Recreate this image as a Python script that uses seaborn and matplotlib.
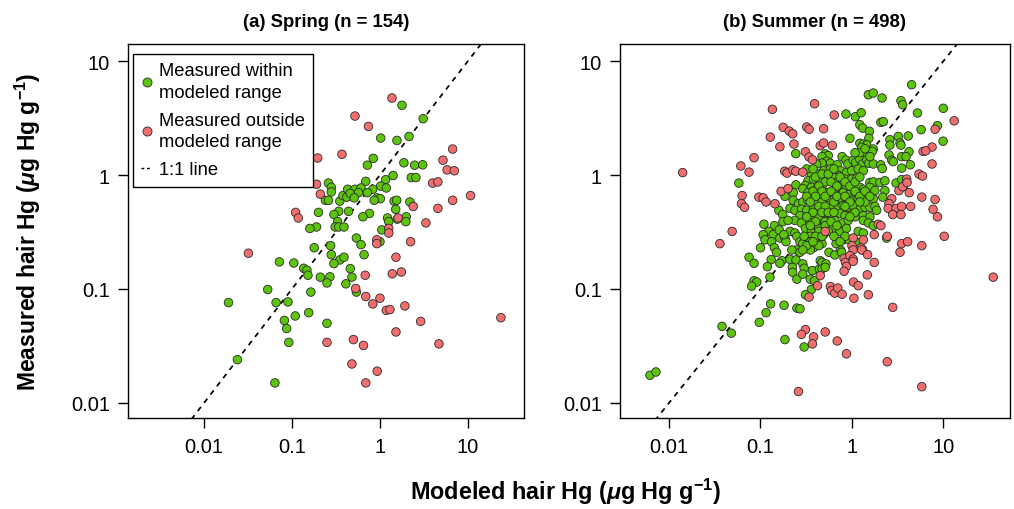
import numpy as np
import pandas as pd
import matplotlib
matplotlib.use("Agg")
import matplotlib.pyplot as plt
from matplotlib.lines import Line2D
import seaborn as sns

# (modeled, measured) hair Hg in ug Hg g-1
spring_within = [
    (0.26, 0.85), (0.28, 0.78), (0.28, 0.71), (0.24, 0.60), (0.26, 0.60),
    (0.35, 0.59), (0.38, 0.66), (0.43, 0.75), (0.42, 0.64), (0.20, 0.47),
    (0.34, 0.48), (0.30, 0.45), (0.44, 0.48), (0.33, 0.39), (0.19, 0.35),
    (0.16, 0.34), (0.31, 0.35), (0.34, 0.35), (0.39, 0.35), (1.78, 4.09),
    (3.1, 3.12), (1.02, 2.11), (1.56, 2.01), (2.14, 2.18), (0.84, 1.40),
    (0.72, 1.22), (1.87, 1.28), (2.48, 1.22), (3.06, 1.23), (1.41, 0.99),
    (1.16, 0.91), (0.69, 0.88), (2.27, 0.95), (2.56, 0.95), (1.02, 0.80),
    (1.18, 0.77), (0.83, 0.75), (0.52, 0.75), (0.61, 0.77), (0.72, 0.70),
    (0.57, 0.70), (0.46, 0.69), (0.51, 0.63), (0.93, 0.63), (1.01, 0.62),
    (0.86, 0.60), (1.45, 0.59), (1.55, 0.60), (2.19, 0.58), (1.51, 0.50),
    (0.76, 0.46), (0.64, 0.43), (1.22, 0.42), (1.26, 0.39), (1.57, 0.41),
    (1.99, 0.43), (1.97, 0.39), (1.05, 0.33), (0.54, 0.28), (0.072, 0.173),
    (0.105, 0.169), (0.179, 0.23), (0.275, 0.24), (0.28, 0.20), (0.35, 0.18),
    (0.39, 0.19), (0.30, 0.167), (0.136, 0.152), (0.148, 0.146), (0.152, 0.132),
    (0.21, 0.127), (0.27, 0.128), (0.25, 0.113), (0.41, 0.111), (0.46, 0.151),
    (0.053, 0.099), (0.164, 0.094), (0.019, 0.076), (0.066, 0.076), (0.090, 0.077),
    (0.109, 0.058), (0.155, 0.062), (0.082, 0.053), (0.087, 0.045), (0.25, 0.050),
    (0.092, 0.034), (0.024, 0.024), (0.064, 0.015), (0.61, 0.245), (1.0, 0.26),
    (0.66, 0.20), (0.48, 0.127), (0.54, 0.094),
]
spring_outside = [
    (0.196, 1.41), (0.37, 1.52), (0.19, 0.83), (0.21, 0.68), (0.110, 0.47),
    (0.118, 0.42), (1.37, 4.74), (0.52, 3.29), (0.74, 2.67), (6.7, 1.69),
    (5.2, 1.35), (5.8, 1.11), (7.0, 1.09), (3.97, 0.85), (4.56, 0.87),
    (2.39, 0.53), (10.7, 0.66), (6.7, 0.60), (4.56, 0.51), (1.61, 0.42),
    (3.33, 0.38), (1.26, 0.34), (1.26, 0.31), (0.032, 0.206), (0.25, 0.034),
    (0.92, 0.27), (0.92, 0.25), (2.23, 0.26), (1.52, 0.19), (0.68, 0.132),
    (1.38, 0.136), (1.75, 0.141), (0.53, 0.101), (0.69, 0.086), (1.0, 0.083),
    (0.83, 0.074), (1.18, 0.065), (1.30, 0.066), (1.92, 0.071), (2.90, 0.052),
    (23.7, 0.056), (1.52, 0.042), (0.50, 0.036), (0.65, 0.032), (4.68, 0.033),
    (0.48, 0.022), (0.93, 0.019), (0.69, 0.015),
]

summer_within = [
    (0.058, 0.85),
    (1.51, 5.06), (1.71, 5.24), (2.13, 4.74), (3.43, 4.49), (3.58, 4.14),
    (0.86, 3.43), (1.09, 3.25), (1.26, 3.52), (1.22, 2.76), (1.31, 2.58),
    (2.07, 2.90), (2.20, 2.94), (1.55, 2.42), (3.21, 2.18), (0.95, 2.10),
    (1.53, 2.10), (1.22, 1.90), (1.33, 1.87), (1.45, 1.84), (1.28, 1.75),
    (2.60, 2.04), (2.60, 1.83), (3.35, 1.91), (3.43, 1.83), (1.71, 1.69),
    (1.67, 1.61), (0.51, 1.53), (0.55, 1.48), (0.47, 1.45), (0.78, 1.45),
    (1.33, 1.48), (2.54, 1.50), (2.72, 1.35), (2.83, 1.31), (3.49, 1.45),
    (0.53, 1.32), (0.58, 1.27), (0.47, 1.27), (0.69, 1.23), (0.86, 1.35),
    (0.90, 1.25), (1.03, 1.35), (1.10, 1.29), (1.22, 1.37), (1.30, 1.25),
    (1.45, 1.36), (1.53, 1.27), (1.71, 1.25), (2.06, 1.23), (2.14, 1.14),
    (3.49, 1.15), (0.49, 1.09), (0.58, 1.13), (0.75, 1.09), (0.87, 1.05),
    (0.99, 1.09), (1.17, 1.13), (1.33, 1.09), (0.71, 0.99), (0.65, 0.95),
    (0.49, 0.92), (0.55, 0.89), (0.84, 0.92), (0.99, 0.92), (1.13, 0.94),
    (1.57, 0.86), (1.71, 0.87), (2.02, 0.86), (2.29, 0.89), (3.03, 0.85),
    (3.49, 0.91), (0.65, 0.85), (0.77, 0.81), (0.87, 0.78), (0.99, 0.78),
    (1.22, 0.78), (1.33, 0.75), (1.57, 0.78), (0.47, 0.79), (0.51, 0.70),
    (0.62, 0.70), (0.80, 0.70), (0.95, 0.68), (1.08, 0.70), (1.31, 0.70),
    (1.78, 0.73), (2.29, 0.73), (0.45, 0.64), (0.53, 0.62), (0.68, 0.60),
    (0.77, 0.62), (0.87, 0.62), (1.03, 0.60), (1.17, 0.62), (1.48, 0.64),
    (1.71, 0.62), (2.17, 0.64), (0.55, 0.54), (0.60, 0.51), (0.71, 0.52),
    (0.80, 0.54), (0.91, 0.52), (1.03, 0.54), (1.22, 0.50), (1.39, 0.52),
    (1.57, 0.52), (1.78, 0.53), (1.86, 0.49), (0.53, 0.45), (0.60, 0.44),
    (0.74, 0.46), (0.84, 0.44), (0.99, 0.45), (1.08, 0.43), (1.33, 0.44),
    (1.57, 0.43), (0.49, 0.40), (0.55, 0.38), (0.65, 0.40), (0.80, 0.38),
    (0.91, 0.40), (1.33, 0.40), (1.51, 0.38), (0.62, 0.34), (0.74, 0.32),
    (0.87, 0.34), (1.17, 0.32), (1.33, 0.31), (1.71, 0.36), (2.39, 0.28),
    (0.49, 0.30),
    (4.49, 6.2), (9.95, 3.85), (5.2, 3.50), (8.6, 2.71), (5.7, 2.50),
    (4.12, 2.20), (9.9, 1.98), (4.2, 1.60), (3.89, 1.45), (4.34, 1.23),
    (3.64, 0.79),
    (0.243, 1.54), (0.35, 1.09), (0.41, 1.25), (0.36, 1.02), (0.43, 1.02),
    (0.33, 0.89), (0.38, 0.92), (0.45, 0.89), (0.31, 0.81), (0.36, 0.78),
    (0.41, 0.75), (0.244, 0.82), (0.29, 0.76), (0.228, 0.70), (0.185, 0.65),
    (0.33, 0.70), (0.39, 0.68), (0.47, 0.68), (0.228, 0.60), (0.26, 0.56),
    (0.29, 0.58), (0.33, 0.60), (0.39, 0.58), (0.47, 0.58), (0.21, 0.51),
    (0.159, 0.49), (0.238, 0.49), (0.28, 0.50), (0.32, 0.49), (0.38, 0.50),
    (0.45, 0.49), (0.175, 0.45), (0.27, 0.44), (0.32, 0.43), (0.36, 0.44),
    (0.43, 0.43), (0.176, 0.39), (0.238, 0.40), (0.28, 0.38), (0.35, 0.38),
    (0.41, 0.37), (0.109, 0.37), (0.142, 0.36), (0.123, 0.32), (0.107, 0.30),
    (0.138, 0.30), (0.163, 0.28), (0.21, 0.32), (0.238, 0.31), (0.31, 0.34),
    (0.36, 0.32), (0.43, 0.34), (0.28, 0.28), (0.35, 0.29), (0.43, 0.28),
    (0.112, 0.27), (0.132, 0.26), (0.185, 0.28), (0.25, 0.29), (0.27, 0.26),
    (0.31, 0.26), (0.36, 0.26), (0.45, 0.27), (0.47, 0.25), (0.38, 0.23),
    (0.35, 0.22), (0.29, 0.25), (0.100, 0.23), (0.142, 0.23), (0.25, 0.22),
    (0.27, 0.21), (0.075, 0.19), (0.085, 0.168), (0.131, 0.181), (0.119, 0.157),
    (0.171, 0.177), (0.163, 0.168), (0.21, 0.182), (0.244, 0.180), (0.29, 0.166),
    (0.30, 0.152), (0.223, 0.155), (0.225, 0.140), (0.37, 0.145), (0.45, 0.177),
    (0.48, 0.168), (0.44, 0.150), (0.127, 0.127), (0.085, 0.118), (0.091, 0.115),
    (0.080, 0.106), (0.25, 0.122), (0.29, 0.135), (0.35, 0.122), (0.39, 0.118),
    (0.36, 0.099), (0.31, 0.089), (0.129, 0.074), (0.181, 0.072), (0.115, 0.062),
    (0.25, 0.068), (0.27, 0.067), (0.097, 0.051), (0.185, 0.036), (0.30, 0.031),
    (0.56, 0.21), (0.65, 0.199), (0.75, 0.22), (0.77, 0.21), (0.67, 0.25),
    (0.80, 0.27), (0.93, 0.27), (0.84, 0.29), (1.10, 0.26), (1.31, 0.22),
    (0.47, 0.171), (0.52, 0.166), (0.47, 0.150), (0.51, 0.155),
    (0.038, 0.047), (0.048, 0.041), (0.0062, 0.0175), (0.0072, 0.0187),
    # tightly packed core, many overlapping samples
    (0.32, 1.13), (0.375, 1.13), (0.40, 0.96), (0.47, 1.02), (0.51, 0.87),
    (0.435, 0.80), (0.375, 0.72), (0.47, 0.72), (0.32, 0.65), (0.40, 0.65),
    (0.51, 0.65), (0.35, 0.58), (0.435, 0.53), (0.51, 0.53), (0.375, 0.47),
    (0.47, 0.47), (0.32, 0.43), (0.40, 0.39), (0.51, 0.39), (0.35, 0.36),
    (0.435, 0.32), (0.51, 0.36), (0.40, 0.29), (0.47, 0.29), (0.35, 0.26),
    (0.435, 0.24), (0.55, 1.02), (0.59, 0.87), (0.635, 1.13), (0.685, 0.80),
    (0.59, 0.72), (0.74, 0.96), (0.635, 0.58), (0.685, 0.65), (0.55, 0.47),
    (0.635, 0.47), (0.59, 0.39), (0.685, 0.36), (0.55, 0.32), (0.635, 0.29),
    (0.74, 0.26), (0.84, 0.87), (0.95, 0.80), (1.08, 0.87), (1.22, 0.96),
    (0.84, 0.65), (0.95, 0.58), (1.08, 0.72), (1.22, 0.65), (1.39, 0.58),
    (0.84, 0.53), (1.08, 0.47), (1.22, 0.58), (0.95, 0.43), (1.39, 0.72),
    (1.57, 0.65), (1.22, 1.57), (1.39, 1.70), (1.57, 1.45), (1.08, 1.57),
    (0.32, 0.24), (0.29, 0.22), (0.375, 0.26), (0.30, 0.29), (0.20, 0.40),
    (0.16, 0.33), (0.19, 0.26), (0.22, 0.22), (0.15, 0.21), (0.18, 0.30),
]
summer_outside = [
    (0.0141, 1.05), (0.061, 1.20), (0.063, 0.66), (0.062, 0.56), (0.067, 0.52),
    (0.049, 0.32), (0.135, 3.77), (0.39, 4.22), (0.177, 2.62), (0.206, 2.43),
    (0.225, 2.30), (0.32, 2.64), (0.34, 2.52), (0.49, 2.55), (0.128, 2.15),
    (0.163, 1.77), (0.232, 1.87), (0.45, 1.81), (0.49, 1.91), (0.085, 1.42),
    (0.31, 1.60), (0.34, 1.44), (0.37, 1.36), (0.075, 1.06), (0.184, 1.08),
    (0.195, 1.04), (0.226, 1.11), (0.243, 1.08), (0.29, 1.06), (0.168, 0.72),
    (0.20, 0.76), (0.096, 0.64), (0.107, 0.63), (0.115, 0.58), (0.144, 0.56),
    (0.64, 3.36), (0.61, 1.82), (3.26, 0.73), (3.58, 0.79), (2.72, 0.62),
    (2.54, 0.56), (2.49, 0.51), (3.03, 0.51), (3.49, 0.53), (2.79, 0.45),
    (3.43, 0.45), (1.94, 0.37), (2.07, 0.36), (0.51, 0.32), (1.03, 0.28),
    (13.1, 2.99), (8.1, 2.52), (7.5, 1.76), (6.0, 1.61), (6.4, 1.63),
    (7.5, 1.25), (5.4, 1.02), (5.9, 0.98), (3.96, 0.92), (4.0, 0.86),
    (4.23, 0.70), (5.8, 0.64), (8.1, 0.61), (4.38, 0.53), (7.7, 0.50),
    (8.6, 0.43), (10.2, 0.29), (3.49, 0.25), (4.06, 0.26), (3.35, 0.21),
    (5.8, 0.24), (35.0, 0.127), (5.8, 0.0139), (1.75, 0.30), (2.43, 0.29),
    (1.0, 0.24), (1.03, 0.22), (1.26, 0.23), (1.28, 0.22), (1.33, 0.27),
    (1.48, 0.20), (0.45, 0.131), (0.82, 0.186), (0.85, 0.171), (0.87, 0.158),
    (0.95, 0.196), (1.03, 0.183), (1.03, 0.175), (0.82, 0.143), (1.75, 0.171),
    (1.47, 0.133), (0.58, 0.105), (0.60, 0.097), (0.65, 0.092), (0.70, 0.102),
    (0.78, 0.090), (1.04, 0.115), (1.17, 0.107), (1.05, 0.083), (1.51, 0.089),
    (2.79, 0.069), (0.51, 0.042), (0.69, 0.035), (0.87, 0.027), (2.43, 0.023),
    (0.036, 0.25), (0.42, 0.107), (0.34, 0.085), (0.31, 0.044), (0.28, 0.040),
    (0.38, 0.038), (0.37, 0.033), (0.26, 0.0126),
]

panel_titles = ["(a) Spring (n = 154)", "(b) Summer (n = 498)"]
tick_values = [0.01, 0.1, 1, 10]
tick_labels = ["0.01", "0.1", "1", "10"]
group_labels = ["Measured within\nmodeled range", "Measured outside\nmodeled range", "1:1 line"]

GREEN = "#5cc40a"
RED = "#f26d6d"
EDGE = "#2a2a2a"


def season_frame(within, outside):
    w = np.array(within)
    o = np.array(outside)
    return pd.concat([
        pd.DataFrame({"modeled": w[:, 0], "measured": w[:, 1], "group": "within"}),
        pd.DataFrame({"modeled": o[:, 0], "measured": o[:, 1], "group": "outside"}),
    ], ignore_index=True)


sns.set_style("ticks")
plt.rcParams["font.family"] = ["Liberation Sans", "DejaVu Sans"]
plt.rcParams["mathtext.fontset"] = "custom"
plt.rcParams["mathtext.rm"] = "Liberation Sans:bold"
plt.rcParams["mathtext.it"] = "Liberation Sans:italic:bold"
plt.rcParams["mathtext.bf"] = "Liberation Sans:bold"
for key in ["text.color", "axes.labelcolor", "xtick.color", "ytick.color"]:
    plt.rcParams[key] = "black"

fig = plt.figure(figsize=(10.14, 5.10), dpi=100)
ax_a = fig.add_axes([0.1262, 0.1784, 0.3905, 0.7333])
ax_b = fig.add_axes([0.6114, 0.1784, 0.3846, 0.7333])

panels = [
    (ax_a, season_frame(spring_within, spring_outside), panel_titles[0], (0.001368, 43.3)),
    (ax_b, season_frame(summer_within, summer_outside), panel_titles[1], (0.00291, 53.3)),
]
palette = {"within": GREEN, "outside": RED}

for ax, df, title, xlim in panels:
    ax.set_xscale("log")
    ax.set_yscale("log")
    ax.plot([1e-4, 1e3], [1e-4, 1e3], color="black", lw=1.25,
            linestyle=(0, (3.0, 3.0)), zorder=1)
    sns.scatterplot(data=df, x="modeled", y="measured", hue="group",
                    palette=palette, s=38, edgecolor=EDGE, linewidth=0.6,
                    legend=False, ax=ax, zorder=3)
    ax.set_xlim(*xlim)
    ax.set_ylim(0.00738, 14.1)
    ax.set_xticks(tick_values)
    ax.set_xticklabels(tick_labels)
    ax.set_yticks(tick_values)
    ax.set_yticklabels(tick_labels)
    ax.minorticks_off()
    ax.tick_params(axis="both", direction="out", length=7, width=1,
                   labelsize=14.5, colors="black")
    ax.tick_params(axis="x", pad=7)
    ax.tick_params(axis="y", pad=6)
    ax.set_xlabel("")
    ax.set_ylabel("")
    for sp in ax.spines.values():
        sp.set_visible(True)
        sp.set_linewidth(1.0)
        sp.set_color("black")
    ax.set_title(title, fontsize=13.3, fontweight="bold", pad=13, color="black")

handles = [
    Line2D([], [], marker="o", linestyle="none", markerfacecolor=GREEN,
           markeredgecolor=EDGE, markeredgewidth=0.6, markersize=6.5),
    Line2D([], [], marker="o", linestyle="none", markerfacecolor=RED,
           markeredgecolor=EDGE, markeredgewidth=0.6, markersize=6.5),
    Line2D([], [], color="black", lw=1.0, linestyle=(0, (2, 2))),
]
leg = ax_a.legend(handles, group_labels, loc="upper left",
                  bbox_to_anchor=(0.0126, 0.973), borderaxespad=0,
                  frameon=True, fancybox=False, framealpha=1,
                  edgecolor="black", fontsize=13.2, handlelength=0.6,
                  handletextpad=0.35, borderpad=0.45, labelspacing=0.6)
leg.get_frame().set_linewidth(1.0)
for t in leg.get_texts():
    t.set_linespacing(1.35)

fig.text(0.0275, 0.545, r"Measured hair Hg ($\mu$g Hg g$^{-1}$)",
         rotation=90, ha="center", va="center", fontsize=16.5, fontweight="bold")
fig.text(0.558, 0.035, r"Modeled hair Hg ($\mu$g Hg g$^{-1}$)",
         ha="center", va="center", fontsize=16.8, fontweight="bold")

fig.savefig("out.png", dpi=100)
